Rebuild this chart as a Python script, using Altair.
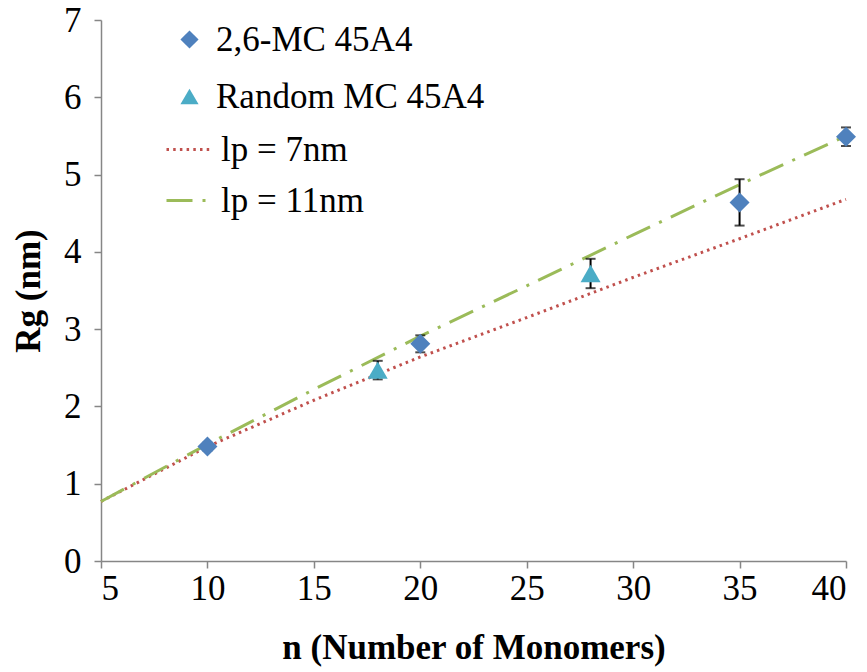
import altair as alt
import pandas as pd

# ---- data ----
mc26_n = [10, 20, 35, 40]
mc26_rg = [1.48, 2.81, 4.64, 5.49]
mc26_err = [0.05, 0.11, 0.30, 0.12]

rand_n = [18, 28]
rand_rg = [2.47, 3.72]
rand_err = [0.12, 0.19]

fit_n = [5, 10, 15, 20, 25, 30, 35, 40]
lp7_rg = [0.77, 1.48, 2.08, 2.64, 3.15, 3.67, 4.17, 4.68]
lp11_rg = [0.77, 1.51, 2.22, 2.91, 3.56, 4.22, 4.87, 5.50]

series_names = ["2,6-MC 45A4", "Random MC 45A4"]
line_names = ["lp = 7nm", "lp = 11nm"]
x_ticks = [5, 10, 15, 20, 25, 30, 35, 40]
y_ticks = [0, 1, 2, 3, 4, 5, 6, 7]

pts = pd.DataFrame({
    "n": mc26_n + rand_n,
    "rg": mc26_rg + rand_rg,
    "err": mc26_err + rand_err,
    "series": [series_names[0]] * len(mc26_n) + [series_names[1]] * len(rand_n),
})
pts["lo"] = pts["rg"] - pts["err"]
pts["hi"] = pts["rg"] + pts["err"]

lines = pd.DataFrame({
    "n": fit_n + fit_n,
    "rg": lp7_rg + lp11_rg,
    "lp": [line_names[0]] * len(fit_n) + [line_names[1]] * len(fit_n),
})

FONT = "Liberation Serif, Times New Roman, DejaVu Serif, serif"
FS = 35

xs = alt.Scale(domain=[5, 40], nice=False, zero=False)
ys = alt.Scale(domain=[0, 7], nice=False)

x_axis = alt.Axis(values=x_ticks, title="n (Number of Monomers)", titlePadding=24,
                  labelPadding=3, tickSize=7, format="d")
y_axis = alt.Axis(values=y_ticks, title="Rg (nm)", titlePadding=17,
                  labelPadding=13, tickSize=7, format="d")

line_legend = alt.Legend(title=None, orient="none", legendX=64, legendY=106,
                         symbolType="stroke", symbolSize=1936,
                         symbolStrokeWidth=3, labelOffset=9,
                         rowPadding=9, labelFontSize=FS, labelFont=FONT,
                         labelColor="black", padding=0, labelLimit=500)

line_layer = alt.Chart(lines).mark_line(strokeWidth=3).encode(
    x=alt.X("n:Q", scale=xs, axis=x_axis),
    y=alt.Y("rg:Q", scale=ys, axis=y_axis),
    color=alt.Color("lp:N", scale=alt.Scale(domain=line_names, range=["#c0504d", "#9bbb59"]),
                    legend=line_legend),
    strokeDash=alt.StrokeDash("lp:N", scale=alt.Scale(domain=line_names,
                                                      range=[[2.5, 4.2], [26, 10, 3, 10]]),
                              legend=line_legend),
    detail="lp:N",
)

err_rule = alt.Chart(pts).mark_rule(color="black", strokeWidth=2).encode(
    x=alt.X("n:Q", scale=xs),
    y=alt.Y("lo:Q", scale=ys),
    y2="hi:Q",
)
err_cap_hi = alt.Chart(pts).mark_tick(color="black", orient="horizontal", size=10,
                                      thickness=2).encode(
    x=alt.X("n:Q", scale=xs), y=alt.Y("hi:Q", scale=ys))
err_cap_lo = alt.Chart(pts).mark_tick(color="black", orient="horizontal", size=10,
                                      thickness=2).encode(
    x=alt.X("n:Q", scale=xs), y=alt.Y("lo:Q", scale=ys))

pt_legend = alt.Legend(title=None, orient="none", legendX=71, legendY=2,
                       symbolSize=330, labelOffset=9, rowPadding=21,
                       labelFontSize=FS, labelFont=FONT, labelColor="black",
                       symbolStrokeWidth=0, padding=0, labelLimit=500)

point_layer = alt.Chart(pts).mark_point(filled=True, size=400, opacity=1).encode(
    x=alt.X("n:Q", scale=xs),
    y=alt.Y("rg:Q", scale=ys),
    color=alt.Color("series:N", scale=alt.Scale(domain=series_names,
                                                range=["#4f81bd", "#4bacc6"]),
                    legend=pt_legend),
    shape=alt.Shape("series:N", scale=alt.Scale(domain=series_names,
                                                range=["diamond", "triangle-up"]),
                    legend=pt_legend),
)

chart = alt.layer(line_layer, err_rule, err_cap_hi, err_cap_lo, point_layer).resolve_scale(
    color="independent", shape="independent", strokeDash="independent"
).properties(
    width=745, height=541,
    autosize=alt.AutoSizeParams(type="none"),
    padding={"left": 101, "top": 20, "right": 21, "bottom": 111},
    background="white",
).configure_view(
    strokeWidth=0
).configure_axis(
    grid=False,
    domainColor="#868686", tickColor="#868686", domainWidth=1.5, tickWidth=1.5,
    labelFont=FONT, labelFontSize=FS, labelColor="black",
    titleFont=FONT, titleFontSize=FS, titleFontWeight="bold", titleColor="black",
)

chart.save("out.html", embed_options={"renderer": "svg", "actions": False})
